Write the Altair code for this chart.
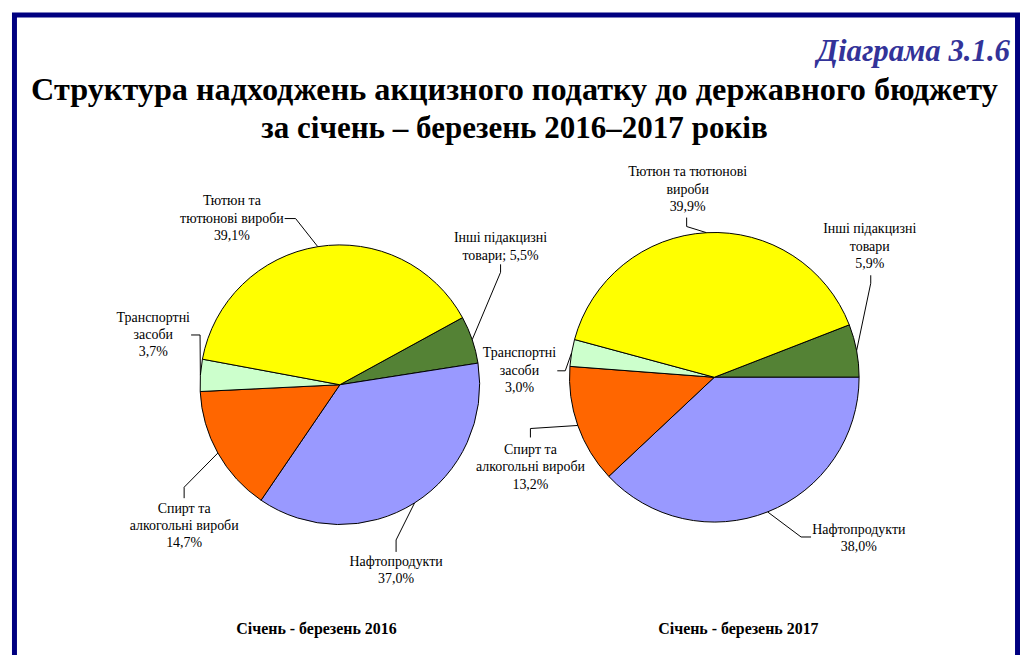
import math
import altair as alt
import pandas as pd

# ---------------- data ----------------
categories = ["Інші підакцизні товари", "Нафтопродукти", "Спирт та алкогольні вироби",
              "Транспортні засоби", "Тютюн та тютюнові вироби"]
values_2016 = [5.5, 37.0, 14.7, 3.7, 39.1]
values_2017 = [5.9, 38.0, 13.2, 3.0, 39.9]
colors = ["#548235", "#9999FF", "#FF6600", "#CCFFCC", "#FFFF00"]
periods = ["Січень - березень 2016", "Січень - березень 2017"]
title_lines = ["Структура надходжень акцизного податку до державного бюджету",
               "за січень – березень 2016–2017 років"]
diagram_no = "Діаграма 3.1.6"

# label wording with the original line breaks; {v} is replaced by the value
label_text_2016 = ["Інші підакцизні\nтовари; {v}", "Нафтопродукти\n{v}",
                   "Спирт та\nалкогольні вироби\n{v}", "Транспортні\nзасоби\n{v}",
                   "Тютюн та\nтютюнові вироби\n{v}"]
label_text_2017 = ["Інші підакцизні\nтовари\n{v}", "Нафтопродукти\n{v}",
                   "Спирт та\nалкогольні вироби\n{v}", "Транспортні\nзасоби\n{v}",
                   "Тютюн та тютюнові\nвироби\n{v}"]

# ---------------- layout (page pixels) ----------------
OFF = 8
W, H = 1017, 647
FONT = "Liberation Serif"
LINE_H = 17.5
pies = [
    dict(values=values_2016, texts=label_text_2016, cx=341.5, cy=385.0, r=140.5, petrol_start=81.1,
         label_pos=[(503, 246.5), (398, 571.5), (185, 527), (154, 335), (233, 218)],
         leader=[[(503, 264), (503, 272)], [(398, 553), (398, 541)], [(185, 499), (185, 488)],
                 [(192, 335), (201, 335)], [(286, 218), (297, 218)]],
         period_pos=(318, 630)),
    dict(values=values_2017, texts=label_text_2017, cx=717.8, cy=377.5, r=145.5, petrol_start=90.0,
         label_pos=[(874, 246.5), (863, 539.5), (533, 468), (522, 371), (691, 189)],
         leader=[[(875, 275), (875, 283)], [(815, 538), (805, 538)], [(533, 438), (533, 429)],
                 [(560, 371), (568, 371)], [(690, 217), (690, 226)]],
         period_pos=(742, 630)),
]

sx = alt.Scale(domain=[0, W], range=[0, W], nice=False, zero=False)
sy = alt.Scale(domain=[0, H], range=[0, H], nice=False, zero=False)
color_scale = alt.Scale(domain=categories, range=colors)


def fmt(v):
    return f"{v:.1f}%".replace(".", ",")


layers = []

# border frame
layers.append(
    alt.Chart(pd.DataFrame({"a": [0]})).mark_rect(fill="transparent", stroke="#000080", strokeWidth=5)
    .encode(x=alt.value(14.5 - OFF), x2=alt.value(1022.5 - OFF), y=alt.value(13.5 - OFF), y2=alt.value(720))
)

text_rows = []
line_rows = []
for p_i, p in enumerate(pies):
    vals = p["values"]
    start_deg = p["petrol_start"] - vals[0] * 3.6
    start = math.radians(start_deg)
    df = pd.DataFrame({"cat": categories, "value": vals, "idx": list(range(len(vals)))})
    arc = (
        alt.Chart(df)
        .mark_arc(radius=p["r"], stroke="black", strokeWidth=1)
        .encode(
            theta=alt.Theta("value:Q", stack=True,
                            scale=alt.Scale(domain=[0, 100], range=[start, start + 2 * math.pi])),
            color=alt.Color("cat:N", scale=color_scale, legend=None),
            order=alt.Order("idx:Q"),
            x=alt.value(p["cx"] - OFF),
            y=alt.value(p["cy"] - OFF),
        )
    )
    layers.append(arc)

    cum = 0.0
    for i, v in enumerate(vals):
        mid = start_deg + (cum + v / 2) * 3.6
        cum += v
        ex = p["cx"] + p["r"] * math.sin(math.radians(mid))
        ey = p["cy"] - p["r"] * math.cos(math.radians(mid))
        pts = p["leader"][i] + [(ex, ey)]
        for s, (px, py) in enumerate(pts):
            line_rows.append({"id": f"{p_i}-{i}", "seq": s, "x": px - OFF, "y": py - OFF})
        lines = p["texts"][i].format(v=fmt(v)).split("\n")
        lx, lcy = p["label_pos"][i]
        n = len(lines)
        for k, t in enumerate(lines):
            text_rows.append({"t": t, "x": lx - OFF, "y": lcy + (k - (n - 1) / 2) * LINE_H - OFF})

leaders = (
    alt.Chart(pd.DataFrame(line_rows))
    .mark_line(color="black", strokeWidth=1)
    .encode(x=alt.X("x:Q", scale=sx, axis=None), y=alt.Y("y:Q", scale=sy, axis=None),
            detail="id:N", order="seq:Q")
)
labels = (
    alt.Chart(pd.DataFrame(text_rows))
    .mark_text(font=FONT, fontSize=14, color="black", align="center", baseline="middle")
    .encode(x=alt.X("x:Q", scale=sx, axis=None), y=alt.Y("y:Q", scale=sy, axis=None), text="t:N")
)
period_df = pd.DataFrame({"t": periods,
                          "x": [p["period_pos"][0] - OFF for p in pies],
                          "y": [p["period_pos"][1] - OFF for p in pies]})
period_labels = (
    alt.Chart(period_df)
    .mark_text(font=FONT, fontSize=16, fontWeight="bold", color="black", align="center", baseline="middle")
    .encode(x=alt.X("x:Q", scale=sx, axis=None), y=alt.Y("y:Q", scale=sy, axis=None), text="t:N")
)
layers += [leaders, labels, period_labels]

diag = (
    alt.Chart(pd.DataFrame({"t": [diagram_no]}))
    .mark_text(font=FONT, fontSize=31, fontWeight="bold", fontStyle="italic", color="#333399",
               align="right", baseline="alphabetic")
    .encode(text="t:N", x=alt.value(1015 - OFF), y=alt.value(60 - OFF))
)
title1 = (
    alt.Chart(pd.DataFrame({"t": [title_lines[0]]}))
    .mark_text(font=FONT, fontSize=32.4, fontWeight="bold", color="black", align="center", baseline="alphabetic")
    .encode(text="t:N", x=alt.value(517 - OFF), y=alt.value(99 - OFF))
)
title2 = (
    alt.Chart(pd.DataFrame({"t": [title_lines[1]]}))
    .mark_text(font=FONT, fontSize=31.2, fontWeight="bold", color="black", align="center", baseline="alphabetic")
    .encode(text="t:N", x=alt.value(517 - OFF), y=alt.value(137 - OFF))
)
layers += [diag, title1, title2]

chart = (
    alt.layer(*layers)
    .resolve_scale(theta="independent")
    .properties(width=W, height=H, autosize=alt.AutoSizeParams(type="none"), padding=0, background="white")
    .configure_view(strokeWidth=0)
)

chart.save("out.html", embed_options={"renderer": "svg", "actions": False})
